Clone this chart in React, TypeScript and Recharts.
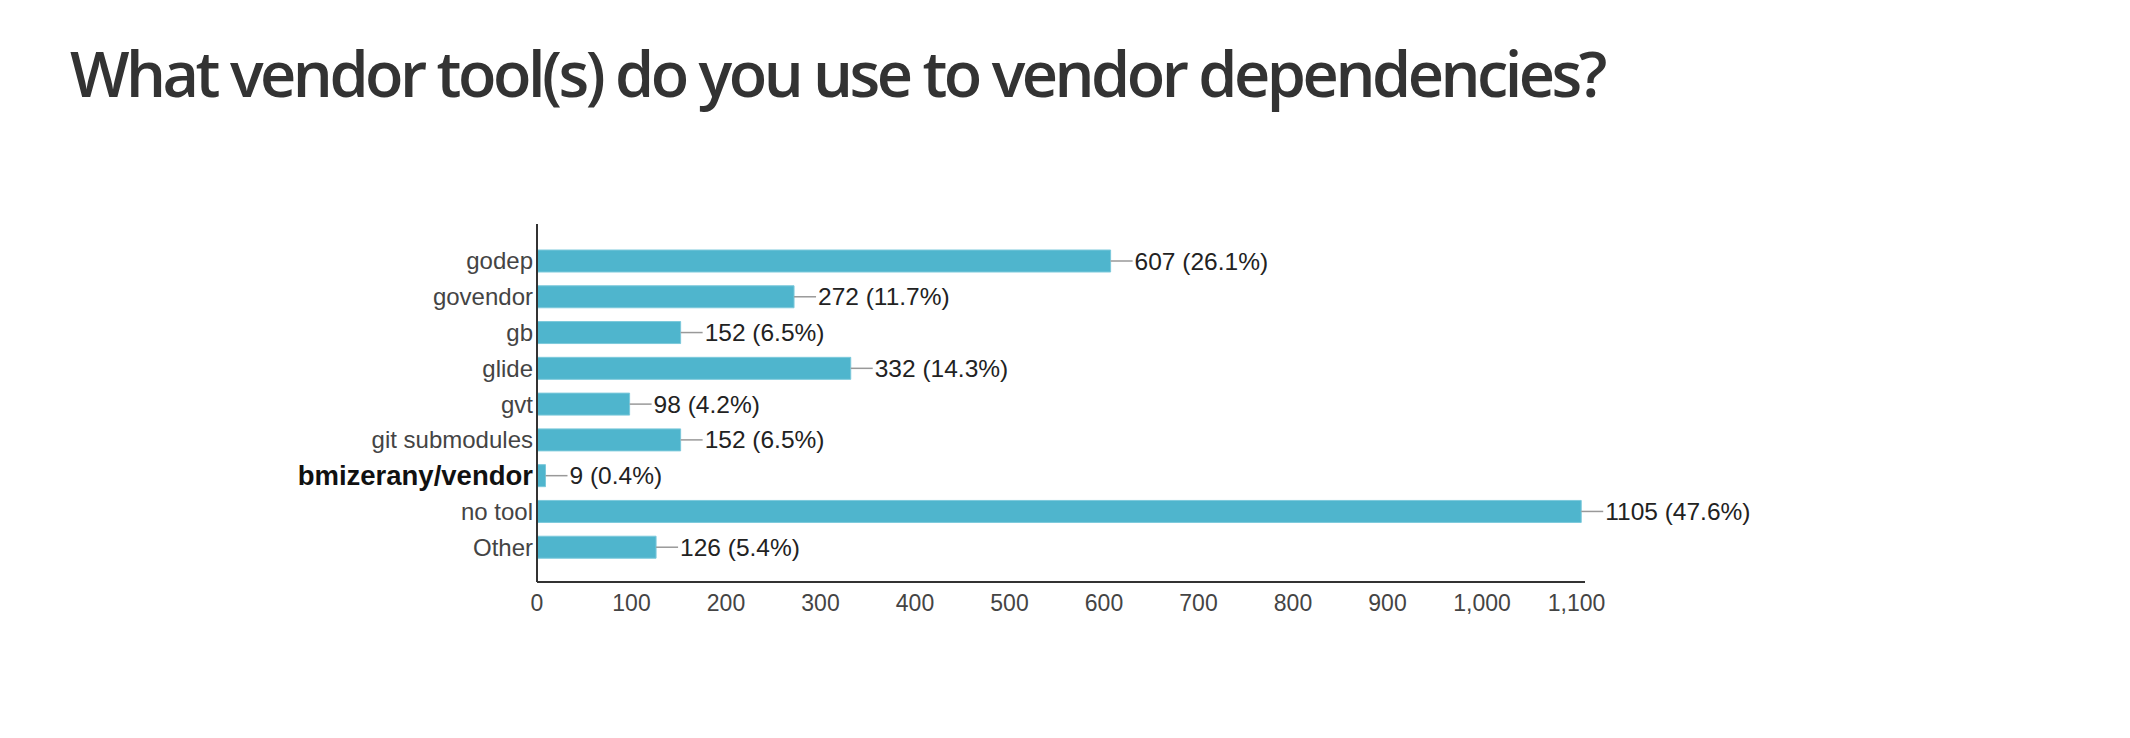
import React from "react";
import { BarChart, Bar, XAxis, YAxis, LabelList } from "recharts";

// ── Data ───────────────────────────────────────────────────────────────────
const TITLE = "What vendor tool(s) do you use to vendor dependencies?";
const categories = [
  "godep", "govendor", "gb", "glide", "gvt",
  "git submodules", "bmizerany/vendor", "no tool", "Other",
];
const counts   = [607, 272, 152, 332, 98, 152, 9, 1105, 126];
const percents = ["26.1%", "11.7%", "6.5%", "14.3%", "4.2%", "6.5%", "0.4%", "47.6%", "5.4%"];
const xTicks   = [0, 100, 200, 300, 400, 500, 600, 700, 800, 900, 1000, 1100];
const highlighted = "bmizerany/vendor";

const rows = categories.map((name, i) => ({
  name, count: counts[i], label: `${counts[i]} (${percents[i]})`,
}));

// ── Styles ─────────────────────────────────────────────────────────────────
const FONT = "'Liberation Sans', Arial, sans-serif";
const BAR  = "#4fb5cd";

// ── Y axis tick (one label is bold) ────────────────────────────────────────
const CategoryTick = (props: any) => {
  const { x, y, payload } = props;
  const bold = payload.value === highlighted;
  return (
    <text
      x={x} y={y}
      textAnchor="end" dominantBaseline="central"
      fontFamily={FONT}
      fontSize={bold ? 27.5 : 24}
      fontWeight={bold ? 700 : 400}
      fill={bold ? "#111" : "#444"}
    >
      {payload.value}
    </text>
  );
};

// ── Value label with leader line ───────────────────────────────────────────
const ValueLabel = (props: any) => {
  const { x, y, width, height, value } = props;
  const xe = x + width;
  const yc = y + height / 2;
  return (
    <g>
      <line x1={xe} y1={yc} x2={xe + 22} y2={yc} stroke="#999" strokeWidth={1.5} />
      <text
        x={xe + 24} y={yc}
        dominantBaseline="central"
        fontFamily={FONT} fontSize={24.5} fill="#222"
      >
        {value}
      </text>
    </g>
  );
};

export default function App() {
  return (
    <div style={{ position: "relative", width: 2130, height: 738, background: "#fff", overflow: "hidden" }}>
      <style>{`body{margin:0}`}</style>
      <div style={{
        position: "absolute", left: 70, top: 41,
        fontFamily: "'Open Sans', sans-serif", fontWeight: 600,
        fontSize: 63, lineHeight: "63px", color: "#333",
        letterSpacing: "-3.5px", whiteSpace: "nowrap",
      }}>
        {TITLE}
      </div>

      <div style={{ position: "absolute", left: 0, top: 200 }}>
        <BarChart
          width={1800}
          height={422}
          data={rows}
          layout="vertical"
          margin={{ top: 24, right: 215, left: 0, bottom: 0 }}
        >
          <XAxis
            type="number"
            dataKey="count"
            domain={[0, 1109]}
            ticks={xTicks}
            interval={0}
            height={40}
            tickLine={false}
            tickSize={0}
            tickMargin={13}
            axisLine={{ stroke: "#333", strokeWidth: 2 }}
            tick={{ fontFamily: FONT, fontSize: 23, fill: "#444" }}
            tickFormatter={(v: number) => v.toLocaleString("en-US")}
          />
          <YAxis
            type="category"
            dataKey="name"
            width={537}
            interval={0}
            tickLine={false}
            tickSize={0}
            tickMargin={4}
            padding={{ top: 19, bottom: 17 }}
            axisLine={{ stroke: "#333", strokeWidth: 2 }}
            tick={<CategoryTick />}
          />
          <Bar dataKey="count" fill={BAR} stroke="#7cc9db" strokeWidth={1} barSize={22} isAnimationActive={false}>
            <LabelList dataKey="label" content={<ValueLabel />} />
          </Bar>
        </BarChart>
      </div>
    </div>
  );
}
